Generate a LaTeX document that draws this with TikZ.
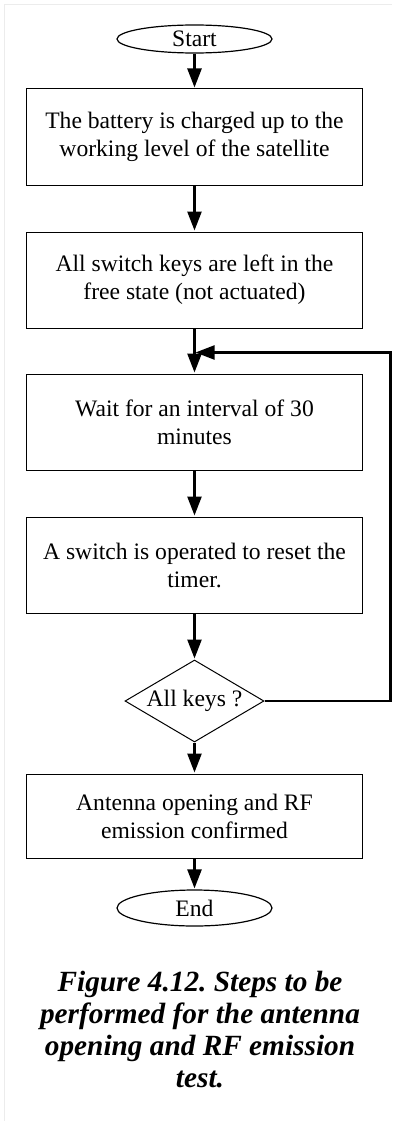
\documentclass[tikz,border=0pt]{standalone}
\usepackage{fontspec}
\setmainfont{Liberation Serif}
\usepackage{tikz}
\usetikzlibrary{positioning, arrows.meta, shapes.geometric}
\usetikzlibrary{calc}
\frenchspacing

\tikzset{
  term/.style={ellipse, draw, line width=1.2pt, minimum width=155pt, inner sep=0pt, font=\fontsize{23.6pt}{28pt}\selectfont},
  stepbox/.style={rectangle, draw, line width=1pt, minimum width=336pt, minimum height=96pt, align=center, font=\fontsize{23.6pt}{28pt}\selectfont},
  test/.style={diamond, draw, line width=1pt, aspect=1.7, inner sep=0pt, minimum width=139pt, minimum height=82pt, font=\fontsize{23.6pt}{28pt}\selectfont},
  flow/.style={-{Triangle[length=19pt,width=14pt]}, line width=2.5pt}
}

\begin{document}
\begin{tikzpicture}[shorten >=1pt, on grid, auto]
    \useasboundingbox (0,0) rectangle (393pt,-1121pt);
    \draw[gray!15, line width=1pt] (4pt,-1121pt) -- (4pt,-5pt) -- (393pt,-5pt);

    \node[term, minimum height=28pt] (st) at (194.5pt,-39pt) {Start};
    \node[stepbox] (s1) [below=98pt of st] {The battery is charged up to the\\working level of the satellite};
    \node[stepbox] (s2) [below=143pt of s1] {All switch keys are left in the\\free state (not actuated)};
    \node[stepbox] (s3) [below=142pt of s2] {Wait for an interval of 30\\minutes};
    \node[stepbox] (s4) [below=143pt of s3] {A switch is operated to reset the\\timer.};
    \node[test] (k) [below=136pt of s4] {All keys ?};
    \node[stepbox, minimum height=84pt] (s5) [below=115pt of k] {Antenna opening and RF\\emission confirmed};
    \node[term, minimum height=36pt] (en) [below=92pt of s5] {End};
    \node[align=center, font=\fontsize{29.3pt}{32pt}\selectfont\bfseries\itshape] (cap) [below=122pt of en, xshift=5.5pt]
        {Figure 4.12. Steps to be\\performed for the antenna\\opening and RF emission\\test.};

    \coordinate (back) at ($(s3.north)+(0,21pt)$);

    \path[flow]
    (st) edge (s1)
    (s1) edge (s2)
    (s2) edge (s3)
    (s3) edge (s4)
    (s4) edge (k)
    (k)  edge (s5)
    (s5) edge (en);
    \draw[flow, line width=2.2pt] (k.east) -- ++(126pt,0) |- (back);
\end{tikzpicture}
\end{document}
